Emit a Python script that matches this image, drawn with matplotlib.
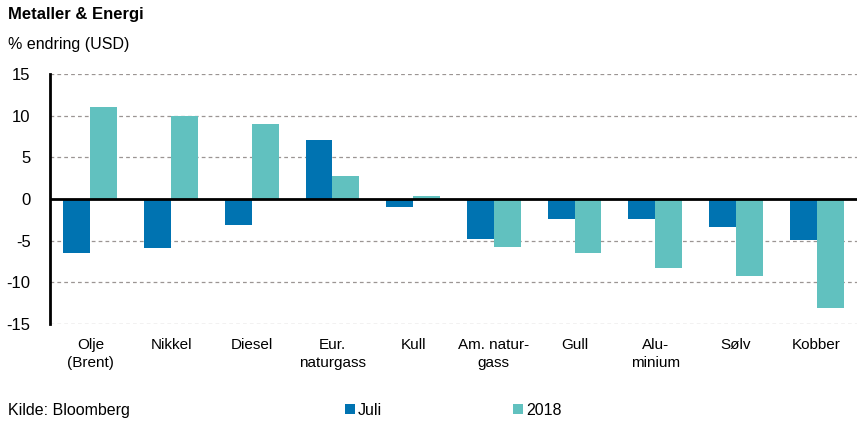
import matplotlib

matplotlib.use("Agg")

import matplotlib.pyplot as plt
import numpy as np

categories = ["Olje\n(Brent)", "Nikkel", "Diesel", "Eur.\nnaturgass", "Kull",
              "Am. natur-\ngass", "Gull", "Alu-\nminium", "Sølv", "Kobber"]
juli = [-6.5, -5.9, -3.1, 7.1, -1.0, -4.8, -2.4, -2.4, -3.4, -4.9]
aar_2018 = [11.0, 10.0, 9.0, 2.7, 0.3, -5.8, -6.5, -8.3, -9.3, -13.1]
series_names = ["Juli", "2018"]
yticks = [-15, -10, -5, 0, 5, 10, 15]

BLUE = "#0073B1"
TEAL = "#61C1BF"

plt.rcParams["font.family"] = ["Liberation Sans", "DejaVu Sans"]

fig = plt.figure(figsize=(8.57, 4.25), dpi=100)
ax = fig.add_axes([0.0583, 0.238, 0.9417, 0.588])

x = np.arange(len(categories))
w = 0.333
b1 = ax.bar(x - w / 2, juli, width=w, color=BLUE, label=series_names[0], zorder=2)
b2 = ax.bar(x + w / 2, aar_2018, width=w, color=TEAL, label=series_names[1], zorder=2)

ax.set_xlim(-0.5, len(categories) - 0.5)
ax.set_ylim(-15, 15)
ax.set_yticks(yticks)
ax.set_yticklabels([str(t) for t in yticks], fontsize=12)
ax.set_xticks(x)
ax.set_xticklabels(categories, fontsize=11, va="top", linespacing=1.35)
ax.tick_params(axis="both", length=0)
ax.tick_params(axis="x", pad=10)
ax.tick_params(axis="y", pad=14)

for t in yticks:
    if t != 0:
        ax.axhline(t, color="#9B9593", linestyle=(0, (3, 2.5)), linewidth=0.9, zorder=1)
ax.axhline(0, color="black", linewidth=2, zorder=3)

for side in ["top", "right", "bottom"]:
    ax.spines[side].set_visible(False)
ax.spines["left"].set_linewidth(2)

fig.text(0.009, 0.965, "Metaller & Energi", fontsize=12, fontweight="bold", va="center")
fig.text(0.009, 0.895, "% endring (USD)", fontsize=11.5, va="center")
fig.text(0.009, 0.035, "Kilde: Bloomberg", fontsize=11.5, va="center")

fig.legend(handles=[b1, b2], loc="center left", bbox_to_anchor=(0.403, 0.035),
           ncol=2, frameon=False, fontsize=11.5, handlelength=0.6, handleheight=0.6,
           handletextpad=0.2, columnspacing=8.2, borderpad=0, borderaxespad=0)

fig.savefig("out.png", dpi=100, facecolor="white")
